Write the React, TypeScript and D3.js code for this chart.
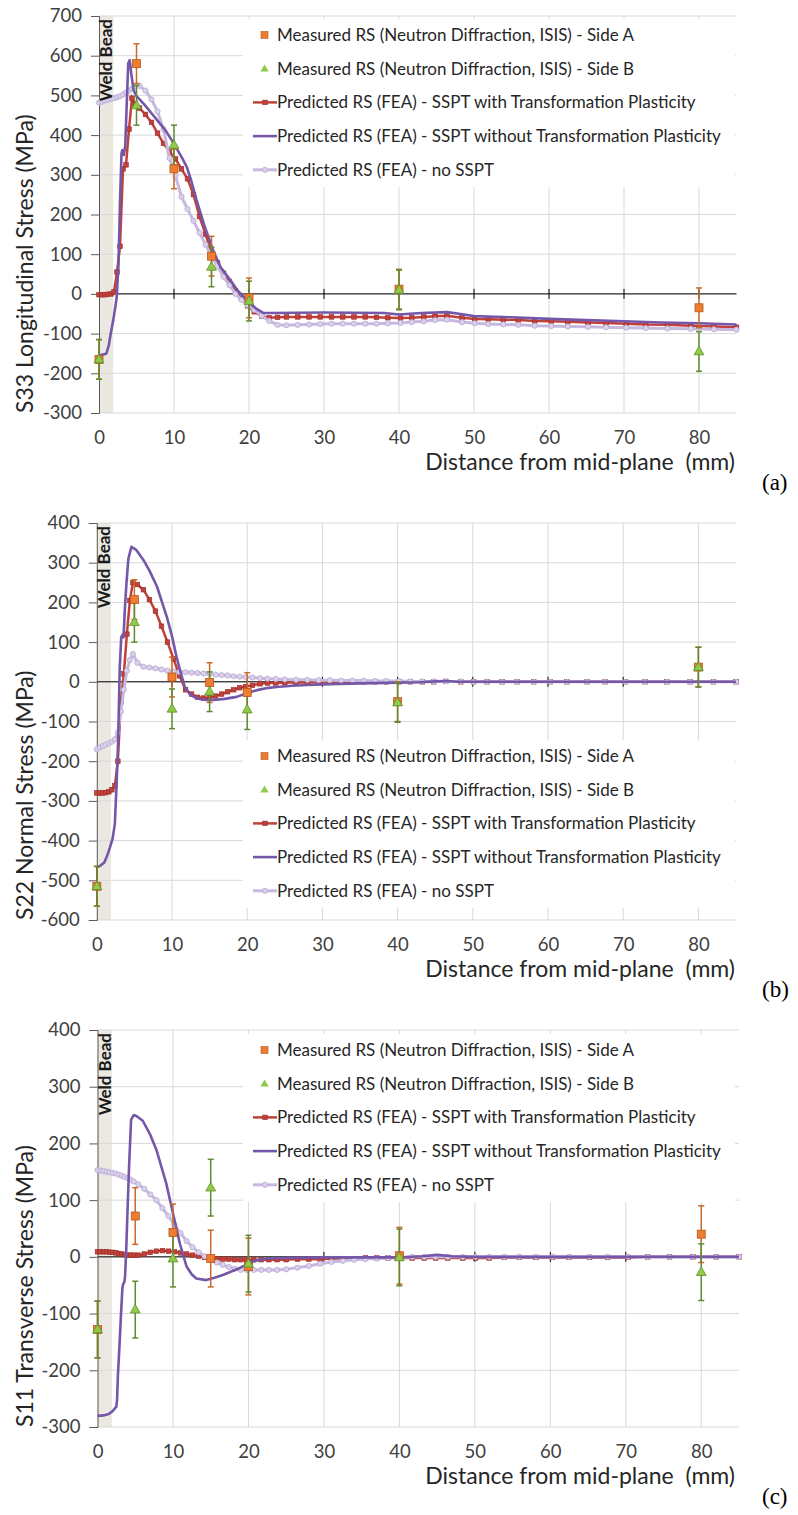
import React, { useEffect, useRef } from 'react';
import * as d3 from 'd3';

// FEA node positions along the plate (mm)
const meshX = [
  0, 0.4, 0.8, 1.2, 1.6, 2.0, 2.4, 2.8, 3.2, 3.6, 4.0, 4.4, 4.8,
  5.4, 6.2, 7.0, 7.8, 8.6, 9.4, 10.2, 11.0, 11.8, 12.6, 13.4, 14.2, 15.0, 15.8, 16.6, 17.4, 18.2, 19.0, 19.8,
  20.7, 21.7, 22.7, 23.8, 25.0,
  26.5, 28.0, 29.5, 31.0, 32.5, 34.0, 35.5, 37.0, 38.5,
  40.2, 41.7, 43.3, 44.8, 46.4, 48.4, 50.1, 51.9, 53.9, 55.9,
  58.1, 60.3, 62.5, 65.2, 67.6, 70.3, 72.9, 75.8, 78.9, 82.0, 85.0,
];

// ---- S33 longitudinal ----
const redS33 = [
  -2, -2, -2, -1, 0, 5, 55, 120, 315, 325, 415, 493, 478,
  468, 452, 432, 405, 379, 358, 340, 315, 290, 250, 195, 150, 105, 78, 52, 30, 8, -12, -30,
  -45, -56, -60, -59, -58,
  -58, -58, -58, -58, -58, -58, -58, -59, -60,
  -61, -60, -58, -56, -55, -60, -63, -64, -65, -66,
  -68, -69, -70, -72, -73, -75, -77, -78, -80, -82, -84,
];
const lavS33 = [
  482, 484, 487, 489, 491, 493, 495, 498, 502, 507, 512, 517, 522,
  524, 512, 490, 460, 415, 342, 297, 245, 214, 184, 154, 124, 96, 70, 43, 22, 0, -15, -28,
  -40, -55, -68, -78, -79,
  -78, -77, -76, -75, -75, -75, -75, -75, -74,
  -73, -71, -69, -66, -65, -71, -74, -76, -77, -78,
  -80, -81, -82, -83, -84, -85, -86, -87, -88, -89, -90,
];
const purpleS33: [number, number][] = [
  [0, -155], [0.5, -153], [1, -150], [1.3, -130], [1.5, -107], [1.9, -66], [2.2, -30], [2.36, -8],
  [2.6, 75], [2.8, 230], [3.0, 354], [3.1, 362], [3.3, 350], [3.5, 372], [3.7, 480], [3.9, 581],
  [4.1, 589], [4.3, 555], [4.6, 514], [5.0, 498], [6.0, 478], [7.0, 455], [8.0, 432], [9.0, 408],
  [10.0, 378], [11.0, 345], [11.7, 320], [12.3, 285], [13.0, 237], [14.0, 175], [15.2, 110],
  [16.2, 68], [17.5, 35], [18.5, 8], [20.1, -23], [21.0, -38], [21.9, -48], [23, -48], [30, -47],
  [38, -48], [40, -52], [43, -48], [46.4, -46], [48, -50], [50, -56], [55, -59], [60, -63],
  [65, -66], [70, -69], [75, -72], [80, -74], [85, -77],
];
const sideAS33 = [-165, 580, 315, 95, -10, 12, -35];
const sideBS33 = [-165, 475, 375, 68, -18, 10, -145];

// ---- S22 normal ----
const redS22 = [
  -280, -280, -280, -279, -277, -272, -262, -200, -50, 20, 120, 205, 250,
  245, 232, 207, 178, 140, 100, 58, 15, -20, -31, -39, -41, -40, -36, -31, -25, -20, -15, -12,
  -9, -5, -3, -3, -2,
  -2, -2, -1, -1, -1, -1, 0, 0, 0,
  0, 0, 0, 0, 1, 0, 0, 0, 0, 0,
  0, 0, 0, 0, 0, 0, 0, 0, 0, 0, 0,
];
const lavS22 = [
  -170, -166, -162, -158, -155, -151, -145, -128, -75, -20, 28, 55, 70,
  48, 38, 36, 34, 31, 28, 26, 25, 24, 23, 22, 21, 20, 18, 17, 16, 14, 13, 12,
  11, 9, 8, 7, 6,
  5, 5, 4, 4, 3, 3, 3, 2, 2,
  2, 1, 1, 1, 1, 1, 0, 0, 0, 0,
  0, 0, 0, 0, 0, 0, 0, 0, 0, 0, 0,
];
const purpleS22: [number, number][] = [
  [0, -467], [0.5, -463], [1, -455], [1.4, -437], [1.75, -417], [2.1, -395], [2.4, -358],
  [2.65, -250], [2.85, -140], [3.05, 35], [3.25, 112], [3.4, 118], [3.55, 112], [3.75, 190],
  [3.95, 250], [4.2, 310], [4.6, 340], [5.2, 333], [6.2, 307], [7.0, 280], [8.0, 240],
  [9.3, 164], [10.0, 115], [10.6, 63], [11.2, 20], [11.7, -13], [12.4, -32], [13.3, -42],
  [14.5, -46], [15.5, -46], [17, -43], [18.6, -38], [20, -28], [21.3, -21], [22.5, -16],
  [23.9, -13], [26, -10], [28, -8], [31, -6], [35, -4], [40, -2], [43, -1], [45, 1], [46.5, 2],
  [48, 0], [55, 0], [65, 0], [75, 0], [85, 0],
];
const sideAS22 = [-515, 207, 12, -2, -27, -50, 37];
const sideBS22 = [-515, 150, -68, -25, -70, -52, 37];

// ---- S11 transverse ----
const redS11 = [
  9, 9, 9, 9, 8, 8, 7, 6, 5, 4, 3, 3, 3,
  3, 5, 8, 10, 11, 10, 9, 7, 5, 3, 1, -1, -2, -3, -4, -4, -5, -5, -5,
  -5, -5, -5, -5, -5,
  -4, -4, -4, -3, -3, -3, -2, -2, -2,
  -2, -2, -2, -2, -2, -2, -2, -2, -1, -1,
  -1, -1, -1, -1, -1, -1, 0, 0, 0, 0, 0,
];
const lavS11 = [
  153, 152, 151, 150, 149, 148, 147, 145, 143, 141, 139, 136, 133,
  128, 120, 110, 100, 86, 72, 56, 42, 28, 17, 8, 1, -5, -10, -14, -18, -21, -23, -23,
  -23, -23, -23, -23, -22,
  -19, -16, -12, -9, -7, -5, -4, -3, -2,
  -1, 0, 0, 0, 0, 0, 0, 0, 0, 0,
  0, 0, 0, 0, 0, 0, 0, 0, 0, 0, 0,
];
const purpleS11: [number, number][] = [
  [0, -280], [0.5, -280], [1, -279], [1.5, -277], [2, -272], [2.5, -264], [2.6, -250],
  [2.7, -210], [2.9, -160], [3.1, -105], [3.3, -55], [3.4, -48], [3.55, -45], [3.65, -35],
  [3.8, 10], [4.0, 90], [4.2, 165], [4.45, 242], [4.8, 250], [5.2, 248], [6.0, 240], [7.0, 215],
  [7.8, 189], [9.1, 130], [10.0, 77], [10.9, 24], [11.8, -17], [12.5, -31], [13.1, -38],
  [14.4, -41], [15.5, -37], [16.6, -32], [18.8, -20], [20.6, -8], [22.4, -3], [25, -2], [30, -1],
  [40, -1], [43, 1], [45, 3.5], [47, 1], [50, 0], [60, 0], [70, 0], [85, 0],
];
const sideAS11 = [-128, 72, 43, -3, -17, 2, 40];
const sideBS11 = [-128, -93, -3, 122, -12, -1, -27];

// measurement positions and uncertainty
const measX = [0, 5, 10, 15, 20, 40, 80];
const measErr = 50;
const weldBeadEnd = 1.9;

const xTicks = [0, 10, 20, 30, 40, 50, 60, 70, 80];
const yTicksS33 = [-300, -200, -100, 0, 100, 200, 300, 400, 500, 600, 700];
const yTicksS22 = [-600, -500, -400, -300, -200, -100, 0, 100, 200, 300, 400];
const yTicksS11 = [-300, -200, -100, 0, 100, 200, 300, 400];

const legendLabels = [
  'Measured RS (Neutron Diffraction, ISIS) - Side A',
  'Measured RS (Neutron Diffraction, ISIS) - Side B',
  'Predicted RS (FEA) - SSPT with Transformation Plasticity',
  'Predicted RS (FEA) - SSPT without Transformation Plasticity',
  'Predicted RS (FEA) - no SSPT',
];

const panels = [
  { tag: '(a)', yTitle: 'S33 Longitudinal Stress (MPa)', yTicks: yTicksS33, red: redS33, lav: lavS33, purple: purpleS33, sideA: sideAS33, sideB: sideBS33 },
  { tag: '(b)', yTitle: 'S22 Normal Stress (MPa)', yTicks: yTicksS22, red: redS22, lav: lavS22, purple: purpleS22, sideA: sideAS22, sideB: sideBS22 },
  { tag: '(c)', yTitle: 'S11 Transverse Stress (MPa)', yTicks: yTicksS11, red: redS11, lav: lavS11, purple: purpleS11, sideA: sideAS11, sideB: sideBS11 },
];

const layout = [
  { left: 99, right: 736.5, top: 16, bottom: 413, legendY: 35 },
  { left: 96.8, right: 736, top: 523, bottom: 920, legendY: 756 },
  { left: 97.5, right: 739, top: 1030, bottom: 1427, legendY: 1050 },
];

const FONT = 'Lato, "Open Sans", sans-serif';
const C = {
  grid: '#d9d9d9',
  band: '#ebe8e1',
  red: '#c0403a',
  redDark: '#9c2d28',
  purple: '#7457a8',
  lav: '#c6b9de',
  lavFill: '#dad1ea',
  orange: '#ed7d31',
  orangeDark: '#b8581c',
  orangeBar: '#c96a2a',
  green: '#8fcb48',
  greenDark: '#5c8f2c',
  greenBar: '#5f8a32',
  text: '#262626',
  tick: '#404040',
};

function drawPanel(svg: any, p: any, L: any) {
  const x = d3.scaleLinear().domain([0, 85]).range([L.left, L.right]);
  const y = d3.scaleLinear()
    .domain([p.yTicks[0], p.yTicks[p.yTicks.length - 1]])
    .range([L.bottom, L.top]);
  const g = svg.append('g');

  // weld bead band
  g.append('rect')
    .attr('x', x(0)).attr('y', L.top)
    .attr('width', x(weldBeadEnd) - x(0)).attr('height', L.bottom - L.top)
    .attr('fill', C.band);

  // gridlines
  g.append('g').selectAll('line').data(p.yTicks).join('line')
    .attr('x1', x(0)).attr('x2', x(85))
    .attr('y1', (d: number) => y(d)).attr('y2', (d: number) => y(d))
    .attr('stroke', C.grid).attr('stroke-width', 1);
  g.append('g').selectAll('line').data(xTicks.filter(d => d > 0)).join('line')
    .attr('x1', (d: number) => x(d)).attr('x2', (d: number) => x(d))
    .attr('y1', L.top).attr('y2', L.bottom)
    .attr('stroke', C.grid).attr('stroke-width', 1);

  // legend background
  g.append('rect')
    .attr('x', 243).attr('y', L.legendY - 16)
    .attr('width', 735 - 243).attr('height', 168)
    .attr('fill', '#fff');

  // zero line with crossing ticks
  g.append('line')
    .attr('x1', x(0)).attr('x2', x(85)).attr('y1', y(0)).attr('y2', y(0))
    .attr('stroke', '#000').attr('stroke-width', 1);
  g.append('g').selectAll('line').data(xTicks.filter(d => d > 0)).join('line')
    .attr('x1', (d: number) => x(d)).attr('x2', (d: number) => x(d))
    .attr('y1', y(0) - 5).attr('y2', y(0) + 5)
    .attr('stroke', '#000').attr('stroke-width', 1);

  // y axis
  const yAxis = g.append('g')
    .attr('transform', `translate(${x(0)},0)`)
    .call(d3.axisLeft(y).tickValues(p.yTicks).tickSize(8).tickPadding(9).tickFormat((d: any) => String(d)));
  yAxis.select('.domain').attr('stroke', '#595959');
  yAxis.selectAll('.tick line').attr('stroke', '#595959');
  yAxis.selectAll('text')
    .attr('font-family', FONT).attr('font-size', 18.5).attr('fill', C.tick);

  // x labels (low position)
  const xAxis = g.append('g')
    .attr('transform', `translate(0,${L.bottom})`)
    .call(d3.axisBottom(x).tickValues(xTicks).tickSize(0).tickFormat((d: any) => String(d)));
  xAxis.select('.domain').remove();
  xAxis.selectAll('text')
    .attr('y', 31).attr('dy', null)
    .attr('font-family', FONT).attr('font-size', 18.5).attr('fill', C.tick);

  // FEA curves
  const line = d3.line<[number, number]>().x(d => x(d[0])).y(d => y(d[1]));
  const redPts: [number, number][] = meshX.map((m, i) => [m, p.red[i]]);
  const lavPts: [number, number][] = meshX.map((m, i) => [m, p.lav[i]]);

  const cg = g.append('g');
  cg.append('path').datum(redPts).attr('d', line)
    .attr('fill', 'none').attr('stroke', C.red).attr('stroke-width', 2.5);
  cg.append('g').selectAll('rect').data(redPts).join('rect')
    .attr('x', (d: any) => x(d[0]) - 2.3).attr('y', (d: any) => y(d[1]) - 2.3)
    .attr('width', 4.6).attr('height', 4.6)
    .attr('fill', C.red).attr('stroke', C.redDark).attr('stroke-width', 0.6);

  cg.append('path').datum(lavPts).attr('d', line)
    .attr('fill', 'none').attr('stroke', C.lav).attr('stroke-width', 3);
  cg.append('g').selectAll('circle').data(lavPts).join('circle')
    .attr('cx', (d: any) => x(d[0])).attr('cy', (d: any) => y(d[1])).attr('r', 2.6)
    .attr('fill', C.lavFill).attr('stroke', '#b7a7d4').attr('stroke-width', 0.8);

  cg.append('path').datum(p.purple).attr('d', line)
    .attr('fill', 'none').attr('stroke', C.purple).attr('stroke-width', 2.6)
    .attr('stroke-linejoin', 'round');

  // measurements
  const drawErr = (vals: number[], color: string) => {
    const eg = g.append('g').attr('stroke', color).attr('stroke-width', 1.5);
    measX.forEach((mx, i) => {
      const cx = x(mx);
      eg.append('line').attr('x1', cx).attr('x2', cx)
        .attr('y1', y(vals[i] - measErr)).attr('y2', y(vals[i] + measErr));
      [vals[i] - measErr, vals[i] + measErr].forEach(v => {
        eg.append('line').attr('x1', cx - 3).attr('x2', cx + 3).attr('y1', y(v)).attr('y2', y(v));
      });
    });
  };
  drawErr(p.sideA, C.orangeBar);
  drawErr(p.sideB, C.greenBar);

  g.append('g').selectAll('rect').data(measX).join('rect')
    .attr('x', (d: number) => x(d) - 4).attr('y', (d: number, i: number) => y(p.sideA[i]) - 4)
    .attr('width', 8).attr('height', 8)
    .attr('fill', C.orange).attr('stroke', C.orangeDark).attr('stroke-width', 0.8);
  const tri = d3.symbol().type(d3.symbolTriangle).size(42);
  g.append('g').selectAll('path').data(measX).join('path')
    .attr('d', tri)
    .attr('transform', (d: number, i: number) => `translate(${x(d)},${y(p.sideB[i]) + 0.5})`)
    .attr('fill', C.green).attr('stroke', C.greenDark).attr('stroke-width', 0.8);

  // weld bead label
  g.append('text')
    .attr('transform', `translate(${x(0) + 13},${L.top + 3}) rotate(-90)`)
    .attr('text-anchor', 'end')
    .attr('font-family', FONT).attr('font-weight', 'bold').attr('font-size', 17)
    .attr('fill', '#1a1a1a')
    .text('Weld Bead');

  // legend
  const lg = g.append('g').attr('font-family', FONT).attr('font-size', 17).attr('fill', C.text);
  legendLabels.forEach((lab, i) => {
    const ry = L.legendY + i * 33.7;
    if (i === 0) {
      lg.append('rect').attr('x', 261).attr('y', ry - 3.5).attr('width', 7).attr('height', 7)
        .attr('fill', C.orange).attr('stroke', C.orangeDark).attr('stroke-width', 0.6);
    } else if (i === 1) {
      lg.append('path').attr('d', d3.symbol().type(d3.symbolTriangle).size(30))
        .attr('transform', `translate(264.5,${ry + 0.5})`).attr('fill', C.green);
    } else if (i === 2) {
      lg.append('line').attr('x1', 253).attr('x2', 277).attr('y1', ry).attr('y2', ry)
        .attr('stroke', C.red).attr('stroke-width', 2.5);
      lg.append('rect').attr('x', 262.7).attr('y', ry - 2.3).attr('width', 4.6).attr('height', 4.6)
        .attr('fill', C.red).attr('stroke', C.redDark).attr('stroke-width', 0.6);
    } else if (i === 3) {
      lg.append('line').attr('x1', 253).attr('x2', 277).attr('y1', ry).attr('y2', ry)
        .attr('stroke', C.purple).attr('stroke-width', 2.6);
    } else {
      lg.append('line').attr('x1', 253).attr('x2', 277).attr('y1', ry).attr('y2', ry)
        .attr('stroke', C.lav).attr('stroke-width', 3);
      lg.append('circle').attr('cx', 265).attr('cy', ry).attr('r', 2.6)
        .attr('fill', C.lavFill).attr('stroke', '#b7a7d4').attr('stroke-width', 0.8);
    }
    lg.append('text').attr('x', 277).attr('y', ry + 6).text(lab);
  });

  // axis titles
  g.append('text')
    .attr('transform', `translate(33,${L.bottom}) rotate(-90)`)
    .attr('text-anchor', 'start')
    .attr('font-family', FONT).attr('font-size', 23).attr('fill', C.text)
    .text(p.yTitle);
  g.append('text')
    .attr('x', 735).attr('y', L.bottom + 57)
    .attr('text-anchor', 'end')
    .attr('font-family', FONT).attr('font-size', 23).attr('fill', C.text)
    .style('white-space', 'pre')
    .text('Distance from mid-plane  (mm)');
  g.append('text')
    .attr('x', 762).attr('y', L.bottom + 77)
    .attr('font-family', '"Liberation Serif", "Times New Roman", serif')
    .attr('font-size', 23).attr('fill', '#000')
    .text(p.tag);
}

export default function App() {
  const ref = useRef<SVGSVGElement>(null);

  useEffect(() => {
    const svg = d3.select(ref.current);
    svg.selectAll('*').remove();
    panels.forEach((p, i) => drawPanel(svg, p, layout[i]));
  }, []);

  return (
    <svg
      ref={ref}
      width={798}
      height={1515}
      style={{ position: 'absolute', left: 0, top: 0, background: '#fff' }}
    />
  );
}
